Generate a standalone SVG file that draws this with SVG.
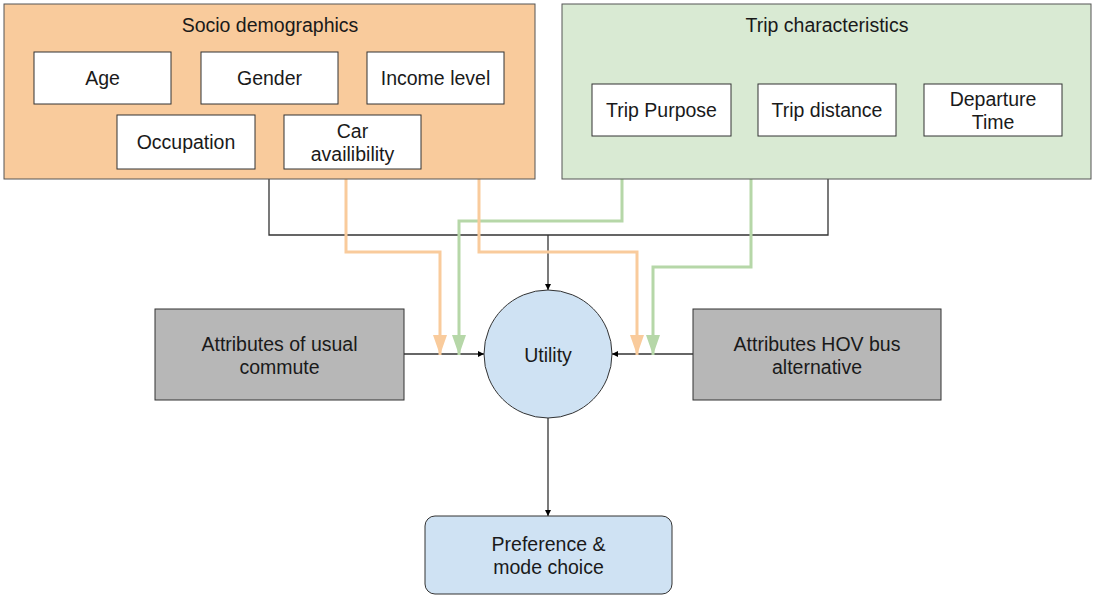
<svg xmlns="http://www.w3.org/2000/svg" width="1093" height="597" viewBox="0 0 1093 597">
<style>
text{font-family:"Liberation Sans",Arial,sans-serif;font-size:19.5px;fill:#1a1a1a;text-anchor:middle}
.box{fill:#ffffff;stroke:#333;stroke-width:1}
.blk{fill:none;stroke:#333;stroke-width:1.3}
.org{fill:none;stroke:#f9cb9c;stroke-width:3}
.grn{fill:none;stroke:#b6d7a8;stroke-width:3}
</style>
<defs>
<marker id="ab" viewBox="0 0 10 10" refX="10" refY="5" markerWidth="6" markerHeight="6" markerUnits="userSpaceOnUse" orient="auto"><path d="M0,0L10,5L0,10z" fill="#000"/></marker>
<marker id="ao" viewBox="0 0 20 14" refX="20" refY="7" markerWidth="21" markerHeight="14" markerUnits="userSpaceOnUse" orient="auto"><path d="M0,0L20,7L0,14z" fill="#f9cb9c"/></marker>
<marker id="ag" viewBox="0 0 20 14" refX="20" refY="7" markerWidth="21" markerHeight="14" markerUnits="userSpaceOnUse" orient="auto"><path d="M0,0L20,7L0,14z" fill="#b6d7a8"/></marker>
</defs>
<g id="connectors">
<polyline class="blk" points="269,179 269,235 828,235 828,179"/>
<line class="blk" x1="548" y1="235" x2="548" y2="290" marker-end="url(#ab)"/>
<line class="blk" x1="404" y1="354" x2="484" y2="354" marker-end="url(#ab)"/>
<line class="blk" x1="693" y1="354" x2="612" y2="354" marker-end="url(#ab)"/>
<line class="blk" x1="548" y1="418" x2="548" y2="516" marker-end="url(#ab)"/>
<polyline class="org" points="346,179 346,252 440,252 440,355" marker-end="url(#ao)"/>
<polyline class="grn" points="622,179 622,221 459,221 459,355" marker-end="url(#ag)"/>
<polyline class="org" points="479,179 479,252 637,252 637,355" marker-end="url(#ao)"/>
<polyline class="grn" points="751,179 751,267 653,267 653,355" marker-end="url(#ag)"/>
</g>
<g id="socio">
<rect x="4" y="4" width="531" height="175" fill="#f9cb9c" stroke="#555" stroke-width="1"/>
<text x="270" y="32">Socio demographics</text>
</g>
<g id="age"><rect class="box" x="34" y="52" width="137" height="52"/><text x="102.5" y="85">Age</text></g>
<g id="gender"><rect class="box" x="201" y="52" width="137" height="52"/><text x="269.5" y="85">Gender</text></g>
<g id="income"><rect class="box" x="367" y="52" width="137" height="52"/><text x="435.5" y="85">Income level</text></g>
<g id="occupation"><rect class="box" x="117" y="115" width="138" height="54"/><text x="186" y="149">Occupation</text></g>
<g id="car"><rect class="box" x="284" y="115" width="137" height="54"/><text x="352.5" y="138">Car</text><text x="352.5" y="161">availibility</text></g>
<g id="trip">
<rect x="562" y="4" width="529" height="175" fill="#d9ead3" stroke="#555" stroke-width="1"/>
<text x="827" y="32">Trip characteristics</text>
</g>
<g id="purpose"><rect class="box" x="592" y="84" width="139" height="52"/><text x="661.5" y="117">Trip Purpose</text></g>
<g id="distance"><rect class="box" x="758" y="84" width="138" height="52"/><text x="827" y="117">Trip distance</text></g>
<g id="departure"><rect class="box" x="924" y="84" width="138" height="52"/><text x="993" y="106">Departure</text><text x="993" y="129">Time</text></g>
<g id="usual"><rect x="155" y="309" width="249" height="91" fill="#b7b7b7" stroke="#333"/><text x="279.5" y="351">Attributes of usual</text><text x="279.5" y="374">commute</text></g>
<g id="hov"><rect x="693" y="309" width="248" height="91" fill="#b7b7b7" stroke="#333"/><text x="817" y="351">Attributes HOV bus</text><text x="817" y="374">alternative</text></g>
<g id="utility"><circle cx="548" cy="354" r="64" fill="#cfe2f3" stroke="#333"/><text x="548" y="362">Utility</text></g>
<g id="preference"><rect x="425" y="516" width="247" height="78" rx="10" fill="#cfe2f3" stroke="#333"/><text x="548.5" y="551">Preference &amp;</text><text x="548.5" y="574">mode choice</text></g>
</svg>
